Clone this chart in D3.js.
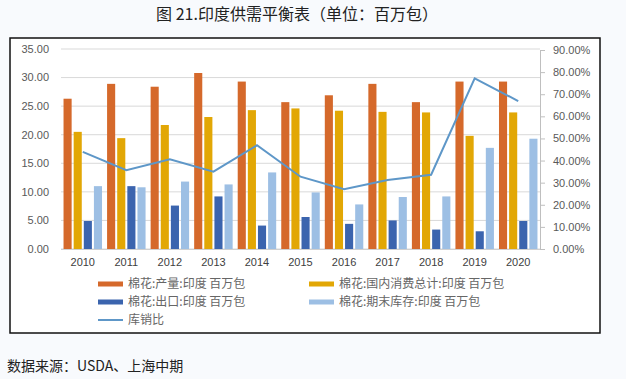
<!DOCTYPE html>
<html><head><meta charset="utf-8">
<script src="https://cdn.jsdelivr.net/npm/d3@7"></script>
<style>
html,body{margin:0;padding:0;background:#F8FAFD;}
svg{display:block;}
</style></head>
<body>
<svg id="c" width="626" height="379"></svg>
<script>
const years = ["2010","2011","2012","2013","2014","2015","2016","2017","2018","2019","2020"];
const production = [26.3, 28.9, 28.4, 30.8, 29.3, 25.7, 26.9, 28.9, 25.7, 29.3, 29.3];
const consumption = [20.5, 19.4, 21.7, 23.1, 24.3, 24.6, 24.2, 24.0, 23.9, 19.8, 23.9];
const exports_ = [4.9, 11.0, 7.6, 9.2, 4.1, 5.6, 4.4, 5.0, 3.4, 3.1, 4.9];
const endingStocks = [11.0, 10.8, 11.8, 11.3, 13.4, 9.9, 7.8, 9.1, 9.2, 17.7, 19.3];
const stockRatio = [0.439, 0.356, 0.406, 0.350, 0.469, 0.327, 0.270, 0.312, 0.336, 0.772, 0.669];
const seriesNames = ["棉花:产量:印度 百万包","棉花:国内消费总计:印度 百万包","棉花:出口:印度 百万包","棉花:期末库存:印度 百万包"];
const lineName = "库销比";
const leftTicks = [0,5,10,15,20,25,30,35];
const rightTicks = [0,0.1,0.2,0.3,0.4,0.5,0.6,0.7,0.8,0.9];
const colors = ["#D5692B","#E2A705","#3B64AE","#9DBFE4"];
const lineColor = "#5E97C8";

const barSeries = [production, consumption, exports_, endingStocks];
const svg = d3.select("#c");

// title
svg.append("text").attr("x",297).attr("y",14).attr("dy","0.35em").attr("text-anchor","middle")
  .attr("font-family","'Noto Sans CJK SC'").attr("font-size",16).attr("font-weight",400).attr("fill","#222")
  .text("图 21.印度供需平衡表（单位：百万包）");

// frame
svg.append("rect").attr("x",10).attr("y",38).attr("width",590).attr("height",295)
  .attr("fill","#fff").attr("stroke","#111").attr("stroke-width",1.5);

const x0 = d3.scaleBand().domain(years).range([61,540]).padding(0);
const x1 = d3.scaleBand().domain([0,1,2,3]).range([0,x0.bandwidth()]).paddingInner(0.2).paddingOuter(0.25);
const yL = d3.scaleLinear().domain([0,35]).range([249,49]);
const yR = d3.scaleLinear().domain([0,0.9]).range([249,50]);

// gridlines
svg.append("g").selectAll("line").data(leftTicks).join("line")
  .attr("x1",61).attr("x2",540).attr("y1",d=>yL(d)).attr("y2",d=>yL(d))
  .attr("stroke","#D9D9D9").attr("stroke-width",1);

// left labels
svg.append("g").selectAll("text").data(leftTicks).join("text")
  .attr("x",49).attr("y",d=>yL(d)).attr("dy","0.35em").attr("text-anchor","end")
  .attr("font-family","'Liberation Sans',Arial").attr("font-size",11).attr("fill","#595959")
  .text(d=>d3.format(".2f")(d));

// bars
const gBars = svg.append("g");
years.forEach((yr,i)=>{
  barSeries.forEach((s,k)=>{
    gBars.append("rect")
      .attr("x",x0(yr)+x1(k)).attr("width",x1.bandwidth())
      .attr("y",yL(s[i])).attr("height",yL(0)-yL(s[i]))
      .attr("fill",colors[k]);
  });
});

// bottom axis line
svg.append("line").attr("x1",61).attr("x2",540).attr("y1",249.5).attr("y2",249.5).attr("stroke","#D0D0D0");

// year labels
svg.append("g").selectAll("text").data(years).join("text")
  .attr("x",d=>x0(d)+x0.bandwidth()/2).attr("y",262).attr("dy","0.35em").attr("text-anchor","middle")
  .attr("font-family","'Liberation Sans',Arial").attr("font-size",11).attr("fill","#404040")
  .text(d=>d);

// right axis
const axR = d3.axisRight(yR).tickValues(rightTicks).tickSize(5).tickPadding(8).tickFormat(d3.format(".2%"));
const gR = svg.append("g").attr("transform","translate(540,0)").call(axR);
gR.select(".domain").attr("stroke","#BFBFBF");
gR.selectAll(".tick line").attr("stroke","#BFBFBF");
gR.selectAll("text").attr("font-family","'Liberation Sans',Arial").attr("font-size",11).attr("fill","#595959");

// line
const line = d3.line().x((d,i)=>x0(years[i])+x0.bandwidth()/2).y(d=>yR(d));
svg.append("path").datum(stockRatio).attr("d",line).attr("fill","none")
  .attr("stroke",lineColor).attr("stroke-width",2);

// legend
const lg = svg.append("g").attr("font-family","'Noto Sans CJK SC'").attr("font-size",12).attr("fill","#666");
const legPos = [[98,284],[309,284],[98,302],[309,302]];
seriesNames.forEach((n,k)=>{
  lg.append("rect").attr("x",legPos[k][0]).attr("y",legPos[k][1]-2.5).attr("width",25).attr("height",5).attr("fill",colors[k]);
  lg.append("text").attr("x",legPos[k][0]+30).attr("y",legPos[k][1]).attr("dy","0.35em").text(n);
});
lg.append("line").attr("x1",98).attr("x2",123).attr("y1",320).attr("y2",320).attr("stroke",lineColor).attr("stroke-width",2);
lg.append("text").attr("x",128).attr("y",320).attr("dy","0.35em").text(lineName);

// source
svg.append("text").attr("x",7).attr("y",366).attr("dy","0.35em")
  .attr("font-family","'Noto Sans CJK SC'").attr("font-size",14).attr("font-weight",400).attr("fill","#222")
  .text("数据来源：USDA、上海中期");
</script>
</body></html>
